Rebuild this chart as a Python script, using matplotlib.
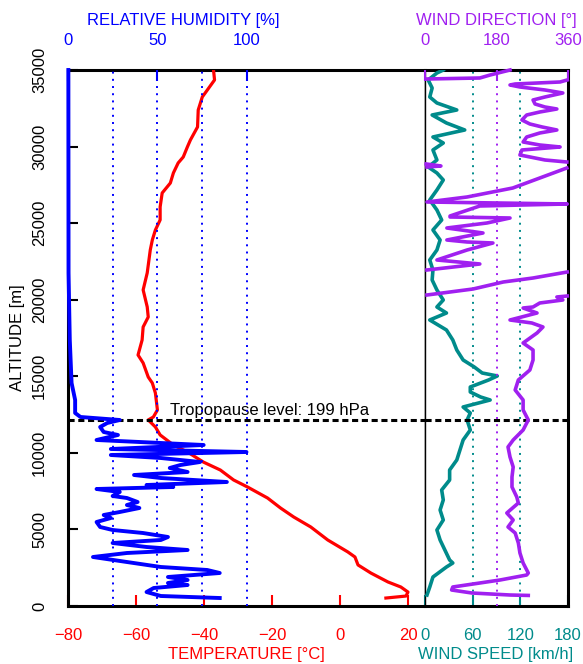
import numpy as np
import matplotlib
matplotlib.use("Agg")
import matplotlib.pyplot as plt

plt.rcParams['font.family'] = ['Liberation Sans', 'DejaVu Sans']

nan = float('nan')

# temperature profile [m], [degC]
alt_temp = [520, 650, 910, 1240, 1570, 2150, 2680, 3200, 3530, 4310,
            5160, 5810, 6400, 7050, 7770, 8230, 8880, 9400, 10060, 10510,
            11170, 11690, 12150, 12340, 12800, 13910, 14560, 14950, 15870, 16390,
            17370, 18220, 18870, 19530, 20640, 21750, 23250, 23900, 24550, 25210,
            26060, 26970, 27620, 28280, 28930, 29320, 29970, 30430, 31280, 32390,
            33240, 33700, 34350, 35000]
temp = [13.5, 19.4, 20.0, 17.9, 14.1, 9.1, 5.3, 4.4, 2.3, -3.6,
        -8.6, -13.6, -17.5, -21.3, -27.2, -31.3, -35.2, -40.2, -44.9, -49.0,
        -52.9, -54.3, -56.4, -54.9, -53.7, -54.3, -55.2, -56.4, -57.9, -59.4,
        -58.2, -57.9, -56.4, -56.7, -57.9, -56.7, -55.8, -55.2, -54.3, -52.9,
        -52.9, -52.3, -49.9, -49.0, -47.6, -46.1, -44.9, -44.0, -41.9, -41.7,
        -40.5, -39.0, -36.9, -37.2]

# relative humidity [%]
alt_rh = [522, 653, 914, 1175, 1371, 1502, 1698, 1894, 2155, 2351,
          2547, 2873, 3200, 3461, 3657, 3853, 4114, 4310, 4506, 4767,
          4963, 5159, 5485, 5746, 5942, 6138, 6399, 6595, 6791, 7052,
          7183, 7444, 7640, 7771, 7901, 8097, 8358, 8554, 8750, 9011,
          9207, 9403, 9664, 9860, 10056, 10252, 10513, 10840, 11166, 11362,
          11689, 11950, 12146, 12342, 12603, 13452, 14562, 17370, 21745, 35000]
rh = [85, 52, 44, 48, 67, 56, 67, 56, 85, 78,
      52, 33, 14, 33, 67, 44, 25, 52, 56, 42,
      25, 18, 16, 24, 20, 29, 40, 33, 39, 33,
      25, 29, 16, 59, 44, 89, 52, 37, 67, 57,
      63, 74, 52, 24, 100, 24, 76, 16, 28, 20,
      18, 22, 29, 7, 4, 4, 2, 1, 0.3, 0.2]

# wind speed [km/h]
alt_ws = [718, 1241, 1894, 2547, 2808, 3004, 3657, 4310, 4963, 5616,
          6269, 6922, 7575, 8228, 8881, 9534, 10187, 10840, 11493, 12146,
          12603, 12995, 13452, 13648, 13974, 14301, 14758, 15020, 15215, 15607,
          16064, 16717, 17370, 18023, 18676, 19133, 19525, 19982, 20635, 21288,
          21941, 22594, 23247, 23900, 24553, 25206, 25859, 26512, 27165, 27818,
          28275, 28667, 29124, 29777, 30234, 30626, 31083, 31540, 32062, 32389,
          32846, 33238, 33825, 34348, 34805, 35000]
wspd = [2.5, 6, 10, 27, 35, 31, 25, 19, 15, 23,
        19, 23, 21, 31, 31, 40, 44, 48, 57, 53,
        57, 48, 82, 70, 57, 57, 80, 91, 72, 62,
        48, 40, 35, 27, 6, 27, 15, 23, 15, 9,
        10, 6, 15, 19, 10, 21, 15, 6, 15, 23,
        15, 4, 15, 10, 23, 10, 50, 27, 9, 40,
        15, 6, 9, 4, 15, 23]

# wind direction [deg], nan = no trace across the 360/0 wrap
alt_wd = [690, 718, 849, 1045, 1241, 1698, 2024, 2155, 2808, 3461,
          4114, 4767, 5159, 5616, 6073, 6726, 7118, 7771, 8424, 9077,
          9730, 10383, 10840, 11493, 12146, 12799, 13452, 14105, 14758, 15411,
          16064, 16717, 17174, 17827, 18219, 18480, 18676, 19133, 19459, 19525,
          19786, 19982, 20178, 20243, 20270, 20308, 20700, 21157, 21418, 21810,
          21870, 21941, 22333, 22594, 23247, 23704, 23769, 23900, 24357, 24683,
          25010, 25336, 25402, 25467, 26120, 26251, 26381, 26708, 27295, 27948,
          28601, 28630, 28667, 28732, 28863, 28930, 28993, 29124, 29254, 29450,
          29777, 29973, 30103, 30299, 30626, 30887, 31083, 31279, 31475, 31736,
          32062, 32258, 32454, 32585, 32781, 33042, 33238, 33499, 33695, 33891,
          34021, 34087, 34217, 34348, 34380, 34413, 34478, 34674, 35000]
wdir = [260, 214, 118, 67, 70, 189, 256, 260, 247, 239,
        235, 227, 209, 222, 206, 235, 231, 219, 219, 222,
        214, 209, 222, 247, 260, 247, 247, 227, 235, 264,
        272, 272, 247, 282, 297, 269, 214, 282, 247, 272,
        289, 347, 332, 358, nan, 5, 121, 197, 272, 358,
        nan, 5, 138, 30, 106, 171, 106, 55, 146, 55,
        156, 214, 63, 63, 138, 358, 5, 106, 221, 289,
        357, nan, 5, 40, 3, nan, 357, 302, 277, 239,
        244, 340, 289, 247, 256, 289, 332, 295, 264, 244,
        256, 289, 332, 302, 277, 272, 302, 347, 302, 239,
        214, 227, 340, 358, nan, 5, 138, 164, 214]

alt_ticks = list(range(0, 35001, 5000))
temp_ticks = [-80, -60, -40, -20, 0, 20]
rh_ticks = [0, 50, 100]
ws_ticks = [0, 60, 120, 180]
wd_ticks = [0, 180, 360]
tropopause = 12150

RED = '#ff0000'
BLUE = '#0000ff'
TEAL = '#008b8b'
PURPLE = '#a020f0'

W, H = 583, 664


def box(x0, y0, x1, y1):
    # pixel box -> figure fraction
    return [x0 / W, 1 - y1 / H, (x1 - x0) / W, (y1 - y0) / H]


fig = plt.figure(figsize=(W / 100, H / 100), dpi=100)

ax_t = fig.add_axes(box(68, 70, 425, 606))
ax_h = ax_t.twiny()
ax_s = fig.add_axes(box(425, 70, 568, 606), sharey=ax_t)
ax_d = ax_s.twiny()

dots = (0, (1, 2.7))

# left panel
ax_t.set_ylim(0, 35000)
ax_t.set_yticks(alt_ticks)
ax_t.tick_params(axis='y', direction='in', length=7, width=1.5, pad=15,
                 labelsize=12, labelrotation=90)
for lab in ax_t.get_yticklabels():
    lab.set_va('center')

ax_t.set_xlim(-80, 25)
ax_t.set_xticks(temp_ticks)
ax_t.tick_params(axis='x', direction='in', length=8, width=1.5, pad=16,
                 labelsize=12, color=RED, labelcolor=RED)

ax_h.set_xlim(0, 200)
ax_h.set_xticks(rh_ticks)
ax_h.tick_params(axis='x', direction='in', length=8, width=1.5, pad=16,
                 labelsize=12, color=BLUE, labelcolor=BLUE)
for v in [25, 50, 75, 100]:
    ax_h.axvline(v, color=BLUE, lw=1.4, ls=dots, zorder=1)

ax_t.plot(temp, alt_temp, color=RED, lw=2.3, zorder=3)
ax_h.plot(rh, alt_rh, color=BLUE, lw=2.8, zorder=3, clip_on=False)
ax_t.axhline(tropopause, color='black', lw=2.2, ls=(0, (2, 1.2)), zorder=4)
ax_t.text(-50, 12470, 'Tropopause level: 199 hPa', fontsize=12, va='baseline')

for side in ['left', 'top', 'bottom']:
    ax_t.spines[side].set_linewidth(2.2)
ax_t.spines['right'].set_linewidth(1.0)
for s in ax_h.spines.values():
    s.set_visible(False)

# right panel
ax_s.set_xlim(0, 180)
ax_s.set_xticks(ws_ticks)
ax_s.tick_params(axis='x', direction='in', length=8, width=1.5, pad=16,
                 labelsize=12, color=TEAL, labelcolor=TEAL)
ax_s.tick_params(axis='y', left=False, labelleft=False)
for v in [60, 120]:
    ax_s.axvline(v, color=TEAL, lw=1.4, ls=dots, zorder=1)

ax_d.set_xlim(0, 360)
ax_d.set_xticks(wd_ticks)
ax_d.tick_params(axis='x', direction='in', length=8, width=1.5, pad=16,
                 labelsize=12, color=PURPLE, labelcolor=PURPLE)
ax_d.axvline(180, color=PURPLE, lw=1.4, ls=dots, zorder=1)

ax_s.plot(wspd, alt_ws, color=TEAL, lw=2.6, zorder=3)
ax_d.plot(wdir, alt_wd, color=PURPLE, lw=2.6, zorder=3, clip_on=False)
ax_s.axhline(tropopause, color='black', lw=2.2, ls=(0, (2, 1.2)), zorder=4)

for side in ['right', 'top', 'bottom']:
    ax_s.spines[side].set_linewidth(2.2)
ax_s.spines['left'].set_linewidth(1.0)
for s in ax_d.spines.values():
    s.set_visible(False)

# axis titles
fig.text(183 / W, 1 - 21 / H, 'RELATIVE HUMIDITY [%]', color=BLUE, fontsize=12,
         ha='center', va='center')
fig.text(496 / W, 1 - 21 / H, 'WIND DIRECTION [°]', color=PURPLE, fontsize=12,
         ha='center', va='center')
fig.text(246 / W, 1 - 655 / H, 'TEMPERATURE [°C]', color=RED, fontsize=12,
         ha='center', va='center')
fig.text(496 / W, 1 - 655 / H, 'WIND SPEED [km/h]', color=TEAL, fontsize=12,
         ha='center', va='center')
fig.text(18 / W, 1 - 338 / H, 'ALTITUDE [m]', color='black', fontsize=12,
         ha='center', va='center', rotation=90)

fig.savefig('out.png', dpi=100)
